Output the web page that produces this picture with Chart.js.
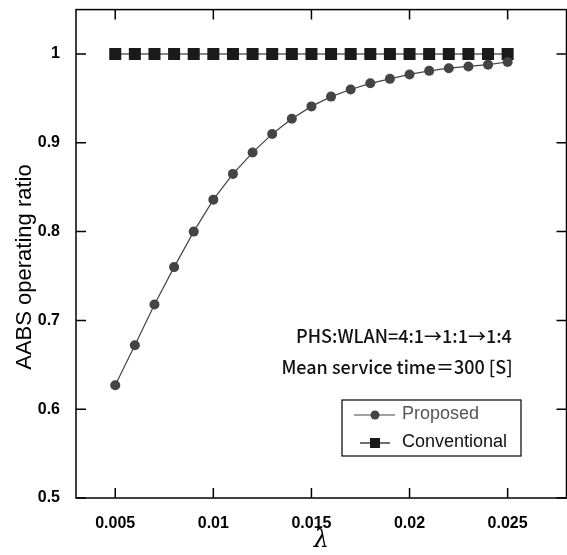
<!DOCTYPE html>
<html>
<head>
<meta charset="utf-8">
<script src="https://cdn.jsdelivr.net/npm/chart.js@4.4.0/dist/chart.umd.min.js"></script>
<style>
  html, body { margin: 0; padding: 0; background: #fff; overflow: hidden; }
  #wrap { position: relative; width: 567px; height: 555px; overflow: hidden; }
  /* canvas is 8px larger on top and right: that is the gap Chart.js keeps there for the markers */
  #chart { position: absolute; left: 0; top: -8px; }
</style>
</head>
<body>
<div id="wrap"><canvas id="chart" width="575" height="563"></canvas></div>
<script>
// data
const lambda = [0.005, 0.006, 0.007, 0.008, 0.009, 0.010, 0.011, 0.012, 0.013, 0.014, 0.015,
                0.016, 0.017, 0.018, 0.019, 0.020, 0.021, 0.022, 0.023, 0.024, 0.025];
const proposed = [0.627, 0.672, 0.718, 0.760, 0.800, 0.836, 0.865, 0.889, 0.910, 0.927, 0.941,
                  0.952, 0.960, 0.967, 0.972, 0.977, 0.981, 0.984, 0.986, 0.988, 0.991];
const conventional = [1, 1, 1, 1, 1, 1, 1, 1, 1, 1, 1, 1, 1, 1, 1, 1, 1, 1, 1, 1, 1];
const xTicks = [0.005, 0.01, 0.015, 0.02, 0.025];
const yTicks = [0.5, 0.6, 0.7, 0.8, 0.9, 1];
const seriesNames = ["Proposed", "Conventional"];
const notes = ["PHS:WLAN=4:1\u21921:1\u21921:4", "Mean service time\uFF1D300 [S]"];

const FONT = '"Liberation Sans", "Noto Sans CJK JP", sans-serif';
const NOTE_FONT = '"Noto Sans CJK JP", "Liberation Sans", sans-serif';
const DY = 8; // canvas shift, see css

// frame, inward ticks, notes, legend and y title
const decorations = {
    id: 'decorations',
    afterDatasetsDraw(chart) {
        const ctx = chart.ctx;
        const a = chart.chartArea;
        const xs = chart.scales.x, ys = chart.scales.y;
        ctx.save();
        ctx.strokeStyle = '#000';
        ctx.lineWidth = 1.5;
        ctx.strokeRect(a.left, a.top, a.right - a.left, a.bottom - a.top);

        ctx.beginPath();
        xTicks.forEach(v => {
            const px = xs.getPixelForValue(v);
            ctx.moveTo(px, a.bottom); ctx.lineTo(px, a.bottom - 10);
            ctx.moveTo(px, a.top); ctx.lineTo(px, a.top + 10);
        });
        yTicks.forEach(v => {
            const py = ys.getPixelForValue(v);
            ctx.moveTo(a.left, py); ctx.lineTo(a.left + 10, py);
            ctx.moveTo(a.right, py); ctx.lineTo(a.right - 10, py);
        });
        ctx.stroke();

        ctx.translate(0, DY);

        // notes
        ctx.fillStyle = '#111';
        ctx.font = '500 18px ' + NOTE_FONT;
        ctx.textAlign = 'center';
        ctx.textBaseline = 'middle';
        ctx.fillText(notes[0], 404, 336);
        ctx.fillText(notes[1], 397, 367);

        // legend box
        ctx.lineWidth = 1.2;
        ctx.strokeStyle = '#000';
        ctx.strokeRect(342, 400, 179, 56);
        const ds = chart.data.datasets;
        // proposed row
        ctx.strokeStyle = ds[0].borderColor;
        ctx.lineWidth = 1.2;
        ctx.beginPath(); ctx.moveTo(354, 415); ctx.lineTo(395, 415); ctx.stroke();
        ctx.fillStyle = ds[0].pointBackgroundColor;
        ctx.beginPath(); ctx.arc(375, 415, 4.5, 0, Math.PI * 2); ctx.fill();
        // conventional row
        ctx.strokeStyle = ds[1].borderColor;
        ctx.beginPath(); ctx.moveTo(360, 443); ctx.lineTo(390, 443); ctx.stroke();
        ctx.fillStyle = ds[1].pointBackgroundColor;
        ctx.fillRect(370, 438, 10, 10);

        ctx.font = '18px ' + FONT;
        ctx.textAlign = 'left';
        ctx.fillStyle = '#555';
        ctx.fillText(seriesNames[0], 402, 414);
        ctx.fillStyle = '#111';
        ctx.fillText(seriesNames[1], 402, 442);

        // y axis title
        ctx.translate(25, 267);
        ctx.rotate(-Math.PI / 2);
        ctx.textAlign = 'center';
        ctx.fillStyle = '#000';
        ctx.font = '22px ' + FONT;
        ctx.fillText('AABS operating ratio', 0, 0);
        ctx.restore();
    }
};

new Chart(document.getElementById('chart'), {
    type: 'line',
    data: {
        datasets: [
            {
                label: seriesNames[0],
                data: lambda.map((x, i) => ({ x: x, y: proposed[i] })),
                borderColor: '#444',
                borderWidth: 1.2,
                pointRadius: 5,
                pointBackgroundColor: '#444',
                pointBorderWidth: 0,
                tension: 0
            },
            {
                label: seriesNames[1],
                data: lambda.map((x, i) => ({ x: x, y: conventional[i] })),
                borderColor: '#111',
                borderWidth: 1.2,
                pointStyle: 'rect',
                pointRadius: 8.5,
                pointBackgroundColor: '#1a1a1a',
                pointBorderWidth: 0,
                tension: 0
            }
        ]
    },
    options: {
        responsive: false,
        animation: false,
        devicePixelRatio: 1,
        clip: false,
        layout: { padding: { top: 1, right: 1, left: 0, bottom: 0 } },
        plugins: { legend: { display: false }, tooltip: { enabled: false } },
        scales: {
            x: {
                type: 'linear',
                min: 0.003,
                max: 0.028,
                afterBuildTicks: s => { s.ticks = xTicks.map(v => ({ value: v })); },
                afterFit: s => { s.height = 57; },
                grid: { display: false },
                border: { display: false },
                ticks: {
                    color: '#000',
                    padding: 8,
                    maxRotation: 0,
                    font: { family: FONT, size: 16, weight: 'bold' },
                    callback: v => String(v)
                },
                title: {
                    display: true,
                    text: '\u03BB',
                    color: '#000',
                    padding: { top: 0, bottom: 0 },
                    font: { family: '"DejaVu Serif", serif', size: 24, style: 'italic' }
                }
            },
            y: {
                min: 0.5,
                max: 1.05,
                afterBuildTicks: s => { s.ticks = yTicks.map(v => ({ value: v })); },
                afterFit: s => { s.width = 76; },
                grid: { display: false },
                border: { display: false },
                ticks: {
                    color: '#000',
                    padding: 8,
                    font: { family: FONT, size: 16, weight: 'bold' },
                    callback: v => String(v)
                }
            }
        }
    },
    plugins: [decorations]
});
</script>
</body>
</html>
